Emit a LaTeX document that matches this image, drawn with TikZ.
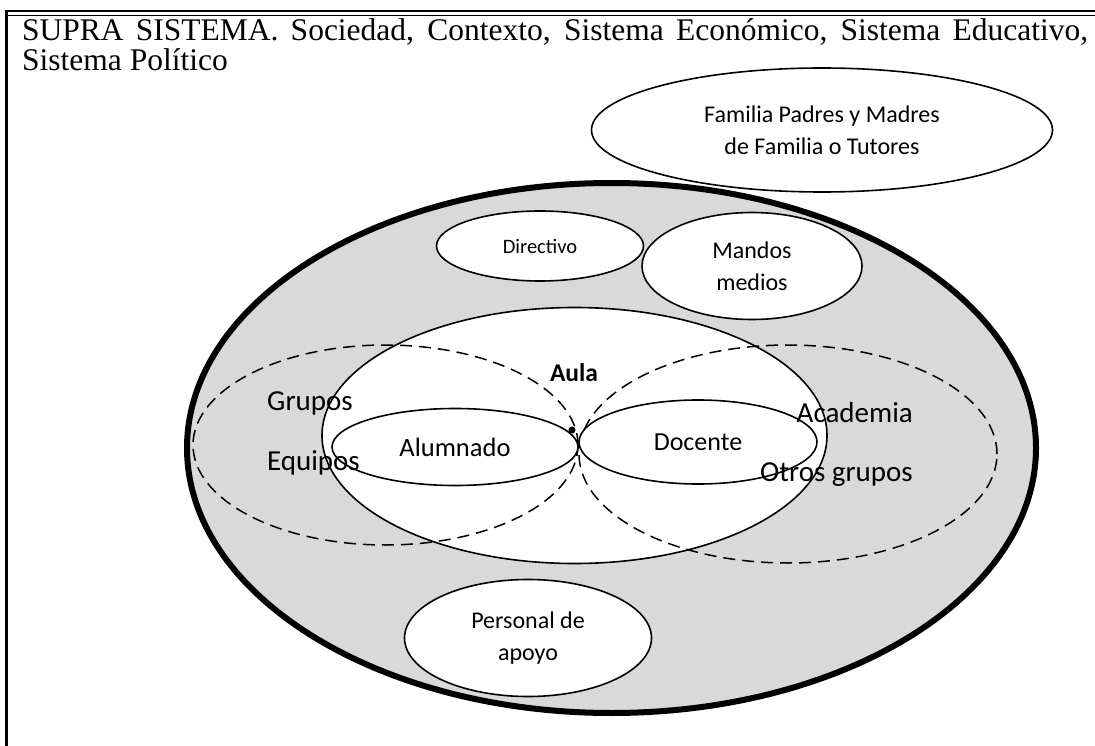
\documentclass[tikz,border=0pt]{standalone}
\usepackage{fontspec}
\setmainfont{Liberation Serif}
\newfontfamily\calibri{Carlito}
\usetikzlibrary{shapes.geometric}
\definecolor{fondo}{HTML}{D9D9D9}
\tikzset{
  sist/.style={ellipse, draw, line width=1.6pt, fill=white, inner sep=0pt, align=center, font=\calibri\fontsize{24}{32}\selectfont},
  grupo/.style={ellipse, draw, line width=1.5pt, dash pattern=on 12pt off 7pt, inner sep=0pt},
  etiq/.style={font=\calibri\fontsize{29}{32}\selectfont, inner sep=0pt},
}

\begin{document}
\begin{tikzpicture}[x=1pt, y=-1pt]
    \useasboundingbox (0,0) rectangle (1095,746);
    % marco
    \draw [line width=2.2pt] (5,11) -- (1095,11);
    \draw [line width=1pt] (6,15.5) -- (1095,15.5);
    \draw [line width=3pt] (6,10) -- (6,746);
    \node (T1) [anchor=base west, inner sep=0pt, font=\fontsize{31.5}{32}\selectfont] at (22,41)
        {\makebox[1066pt][s]{SUPRA SISTEMA. Sociedad, Contexto, Sistema Económico, Sistema Educativo,}};
    \node (T2) [anchor=base west, inner sep=0pt, font=\fontsize{31.5}{32}\selectfont] at (22,71) {Sistema Político};

    \node (Fam) [sist, minimum width=461pt, minimum height=124pt] at (822,130) {Familia Padres y Madres\\de Familia o Tutores};

    % escuela
    \node (Esc) [ellipse, draw, line width=6pt, fill=fondo, minimum width=849pt, minimum height=530pt] at (611.5,448) {};
    \node (Dir) [sist, minimum width=207pt, minimum height=70pt, font=\calibri\fontsize{20.5}{24}\selectfont] at (540,246) {Directivo};
    \node (Man) [sist, minimum width=220pt, minimum height=107pt] at (752,266) {Mandos\\medios};
    \node (Per) [sist, minimum width=247pt, minimum height=117pt] at (528,638) {Personal de\\apoyo};

    % aula y grupos
    \node (Aula) [sist, minimum width=505pt, minimum height=256pt] at (574.5,435.5) {};
    \node (AulaT) [font=\calibri\bfseries\fontsize{25.5}{30}\selectfont, inner sep=0pt] at (574,373) {Aula};
    \node (GIzq) [grupo, minimum width=385pt, minimum height=200pt] at (385.5,445) {};
    \node (GDer) [grupo, minimum width=418pt, minimum height=218pt] at (788,454) {};
    \node (Alu) [sist, minimum width=246pt, minimum height=77pt, font=\calibri\fontsize{26.5}{30}\selectfont] at (455,447) {Alumnado};
    \node (Doc) [sist, minimum width=238pt, minimum height=84pt, font=\calibri\fontsize{26}{30}\selectfont] at (698,442) {Docente};
    \node (Pto) [circle, fill, inner sep=0pt, minimum size=7pt] at (572,430) {};

    \node (Gru) [etiq] at (310,403) {Grupos};
    \node (Equ) [etiq] at (313.5,463) {Equipos};
    \node (Aca) [etiq, anchor=east] at (913,413) {Academia};
    \node (Otr) [etiq, anchor=east] at (913,475) {Otros grupos};
\end{tikzpicture}
\end{document}
